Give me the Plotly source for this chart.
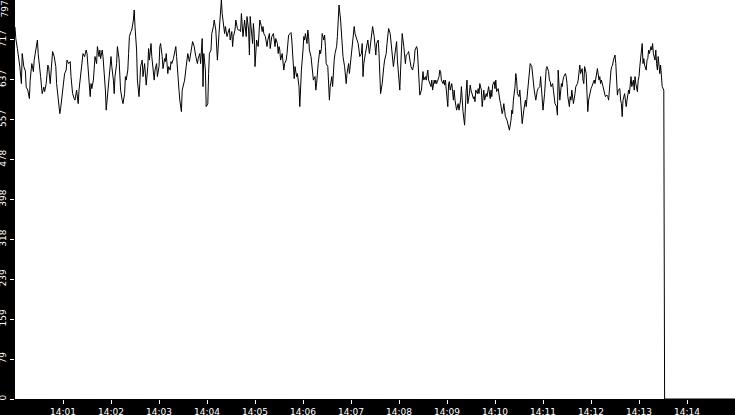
import numpy as np
import pandas as pd
import plotly.graph_objects as go

DAY = "2024-01-01 "

# Values, one list per ~94-second stretch of the chart
seg_a = [743, 720, 700, 690, 664, 630, 690, 664, 655, 623, 617, 600, 637, 670, 654, 677, 697, 717, 690, 664,
         644, 610, 623, 614, 630, 667, 664, 630, 670, 694, 684, 664, 630, 604, 570, 580, 604, 630, 650, 657,
         677, 670, 674, 644, 610, 600, 597, 617, 590, 617, 644, 680, 690, 684, 697, 690, 650]
seg_b = [604, 630, 620, 637, 664, 684, 670, 704, 684, 697, 680, 697, 684, 650, 617, 577, 610, 637, 657, 684,
         664, 637, 610, 644, 670, 704, 680, 657, 617, 597, 590, 610, 644, 637, 657, 690, 724, 734, 737, 757,
         777, 744, 697, 637, 604, 630, 664, 677, 644, 670, 637, 627, 664, 700, 677, 710, 684, 644, 637, 657,
         670, 644, 664, 704, 710, 684, 660]
seg_c = [680, 674, 690, 650, 664, 657, 674, 670, 680, 687, 704, 684, 650, 617, 597, 574, 617, 630, 637, 664,
         687, 690, 674, 687, 710, 714, 704, 690, 684, 670, 680, 690, 670, 720, 624, 690, 657, 584, 590, 650,
         690, 697, 730, 744, 757, 737, 704, 677, 730, 757, 797, 770, 747, 730, 744, 724, 730, 740, 717, 734,
         704, 724, 737, 757, 740, 737]
seg_d = [737, 734, 770, 744, 724, 757, 737, 724, 764, 737, 687, 764, 744, 710, 750, 730, 664, 717, 710, 704,
         730, 757, 744, 734, 744, 730, 724, 710, 704, 717, 730, 700, 710, 724, 730, 717, 704, 720, 710, 690,
         704, 697, 677, 690, 674, 657, 670, 677, 690, 710, 727, 730, 732, 717, 684, 640, 664, 657, 644, 650,
         624, 584, 624, 657, 697, 724, 717, 730, 710, 737, 724, 697, 684, 664, 654, 637]
seg_e = [644, 617, 630, 654, 670, 697, 690, 700, 730, 717, 727, 704, 670, 664, 624, 597, 624, 644, 624, 657,
         677, 690, 704, 724, 757, 787, 757, 737, 704, 684, 664, 644, 630, 650, 670, 650, 664, 684, 704, 717,
         744, 730, 724, 717, 710, 697, 684, 690, 710, 644, 670, 690, 697, 710, 717, 690, 704, 724, 730, 744,
         724, 697, 687, 710, 717, 690, 650, 610, 630, 657, 664, 677, 690, 710, 730, 740]
seg_f = [730, 710, 704, 684, 664, 690, 710, 714, 677, 637, 617, 657, 704, 730, 704, 680, 670, 687, 690, 694,
         680, 670, 664, 657, 667, 674, 697, 704, 697, 657, 610, 607, 617, 637, 654, 637, 644, 637, 650, 657,
         637, 627, 624, 637, 617, 637, 630, 637, 630, 634, 644, 657, 654, 637, 630, 637, 627, 637, 617, 584,
         630, 634, 617, 630, 614, 597, 617, 597, 577, 584, 590, 577, 597, 624, 597, 574]
seg_g = [547, 597, 617, 637, 590, 610, 627, 617, 610, 600, 604, 594, 617, 610, 620, 610, 630, 617, 584, 604,
         617, 597, 610, 604, 620, 624, 600, 617, 604, 627, 634, 620, 637, 614, 620, 604, 597, 590, 570, 577,
         590, 577, 564, 557, 550, 540, 537, 557, 577, 570, 597, 624, 650, 637, 610, 604, 617, 597, 570, 550,
         577, 584, 597, 584, 617, 644, 657, 670, 664, 644, 637, 617, 597, 610, 617, 620]
seg_h = [624, 644, 624, 590, 577, 610, 644, 660, 664, 654, 637, 634, 624, 630, 617, 597, 590, 584, 567, 657,
         617, 597, 630, 624, 637, 644, 650, 644, 630, 604, 584, 604, 597, 617, 590, 597, 610, 624, 630, 637,
         650, 667, 650, 660, 637, 630, 664, 650, 610, 574, 597, 617, 620, 624, 630, 637, 630, 644, 650, 660,
         637, 644, 630, 637, 624, 617, 607, 604, 607, 604, 597, 624, 657, 664, 667, 677]
seg_i = [687, 670, 637, 607, 617, 620, 597, 590, 564, 597, 610, 590, 584, 597, 617, 610, 630, 644, 624, 637,
         617, 644, 630, 614, 637, 644, 664, 677, 710, 670, 680, 667, 657, 677, 680, 697, 690, 704, 697, 710,
         690, 677, 697, 670, 657, 684, 650, 667, 644, 624, 617]

segments = [seg_a, seg_b, seg_c, seg_d, seg_e, seg_f, seg_g, seg_h, seg_i]
seg_start = ["14:00:00", "14:01:34", "14:03:07", "14:04:41", "14:06:15",
             "14:07:49", "14:09:22", "14:10:56", "14:12:30"]
seg_end = ["14:01:34", "14:03:07", "14:04:41", "14:06:15", "14:07:49",
           "14:09:22", "14:10:56", "14:12:30", "14:13:31"]

# after the signal stops it sits at zero
tail_times = ["14:13:32", "14:15:00"]
tail_values = [0, 0]

y_tick_vals = [0, 79.7, 159.4, 239.1, 318.8, 398.5, 478.2, 557.9, 637.6, 717.3, 797]
y_tick_text = ["0", "79", "159", "239", "318", "398", "478", "557", "637", "717", "797"]
x_tick_labels = ["14:01", "14:02", "14:03", "14:04", "14:05", "14:06", "14:07",
                 "14:08", "14:09", "14:10", "14:11", "14:12", "14:13", "14:14"]

times, values = [], []
for i, seg in enumerate(segments):
    t0 = pd.Timestamp(DAY + seg_start[i])
    t1 = pd.Timestamp(DAY + seg_end[i])
    last = i == len(segments) - 1
    frac = np.linspace(0, 1, len(seg), endpoint=last)
    times.extend(t0 + (t1 - t0) * f for f in frac)
    values.extend(seg)
times.extend(pd.Timestamp(DAY + t) for t in tail_times)
values.extend(tail_values)

fig = go.Figure()
fig.add_trace(go.Scatter(x=times, y=values, mode="lines",
                         line=dict(color="black", width=1), hoverinfo="skip"))

font = dict(family="DejaVu Sans", size=9, color="white")
fig.update_layout(
    width=735, height=415,
    margin=dict(l=15, r=0, t=0, b=16, pad=0),
    paper_bgcolor="black", plot_bgcolor="white",
    showlegend=False,
    xaxis=dict(type="date", range=[DAY + "14:00:00", DAY + "14:15:00"],
               tickvals=[DAY + t for t in x_tick_labels], ticktext=x_tick_labels,
               ticks="outside", ticklen=4, tickwidth=1, tickcolor="white",
               tickfont=font, showgrid=False, zeroline=False, showline=False,
               automargin=False, fixedrange=True),
    yaxis=dict(range=[0, 797], tickvals=y_tick_vals[:-1], ticktext=y_tick_text[:-1],
               tickangle=-90, ticks="outside", ticklen=4, tickwidth=1, tickcolor="white",
               tickfont=font, showgrid=False, zeroline=False, showline=False,
               automargin=False, fixedrange=True),
)
# top label sits just inside the figure edge
fig.add_annotation(text=y_tick_text[-1], x=0, xref="paper", xanchor="right", xshift=-5,
                   y=y_tick_vals[-1], yref="y", yanchor="top", textangle=-90,
                   showarrow=False, font=font, borderpad=0)

page_fix = ("document.body.style.margin='0';document.body.style.padding='0';"
            "document.body.style.overflow='hidden';document.body.style.background='black';")
fig.write_html("out.html", config={"displayModeBar": False, "responsive": False},
               post_script=page_fix)
